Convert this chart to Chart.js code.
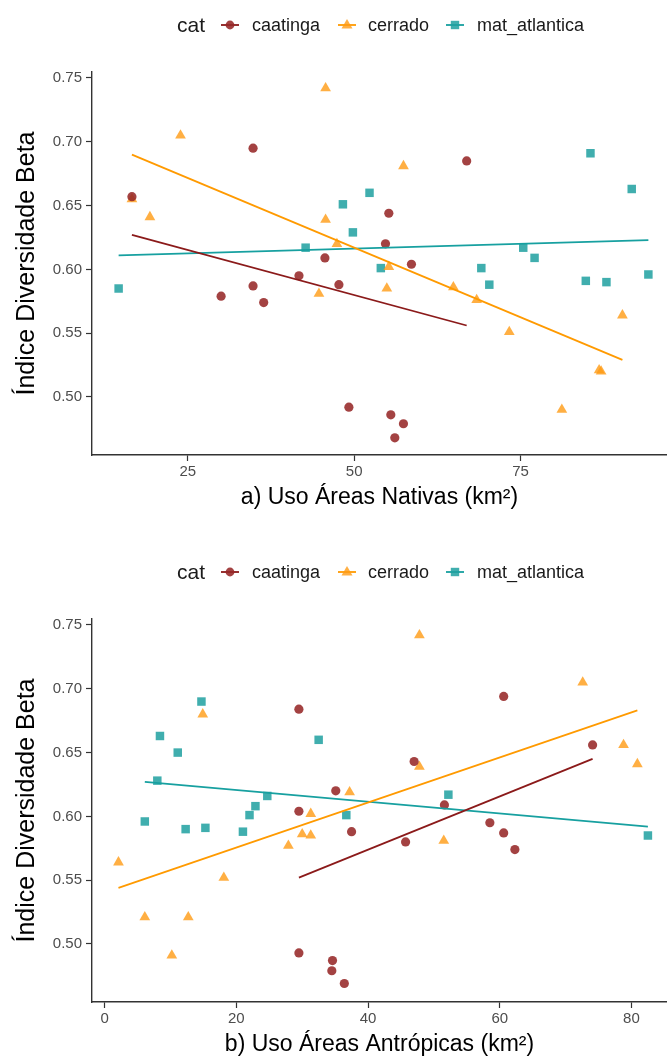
<!DOCTYPE html>
<html>
<head>
<meta charset="utf-8">
<script src="https://cdn.jsdelivr.net/npm/chart.js@4.4.0/dist/chart.umd.min.js"></script>
<style>
  body { margin: 0; background: #fff; overflow: hidden; width: 667px; height: 1061px; position: relative;
         font-family: "Liberation Sans", Arial, sans-serif; }
  .panel { position: absolute; left: 0; width: 667px; height: 547px; }
  .legend { position: absolute; left: 0; top: 12px; width: 667px; height: 26px; color: #1a1a1a; }
  .legend span { position: absolute; top: 0; line-height: 26px; white-space: nowrap; }
  .legend .ttl { font-size: 21px; }
  .legend .lbl { font-size: 18px; }
  .legend svg { position: absolute; top: 4px; }
</style>
</head>
<body>

<div class="panel" style="top:0">
  <canvas id="chartA" width="667" height="547"></canvas>
  <div class="legend" id="legendA"></div>
</div>
<div class="panel" style="top:547px">
  <canvas id="chartB" width="667" height="547"></canvas>
  <div class="legend" id="legendB"></div>
</div>

<script>
// category names and colours
const categories = ['caatinga', 'cerrado', 'mat_atlantica'];
const lineColors = ['#8B1A1A', '#FF9A00', '#17A0A0'];
const pointColors = ['rgba(150,40,40,0.88)', 'rgba(255,155,20,0.8)', 'rgba(30,160,160,0.85)'];
const pointShapes = ['circle', 'triangle', 'rect'];
const pointSizes = [4.6, 6.2, 6.0];

const yTicks = [0.50, 0.55, 0.60, 0.65, 0.70, 0.75];

// a) Uso Áreas Nativas
const natTicks = [25, 50, 75];
const natCaatingaX = [16.6, 34.8, 66.9, 55.2, 54.7, 58.6, 47.7, 45.6, 41.7, 34.8, 30.0, 36.4, 49.2, 55.5, 57.4, 56.1];
const natCaatingaY = [0.657, 0.695, 0.685, 0.644, 0.620, 0.604, 0.588, 0.609, 0.595, 0.587, 0.579, 0.574, 0.492, 0.486, 0.479, 0.468];
const natCerradoX = [16.6, 19.3, 23.9, 45.7, 45.7, 47.4, 57.4, 44.7, 55.2, 54.9, 64.9, 68.4, 73.3, 90.3, 86.8, 87.1, 81.2];
const natCerradoY = [0.655, 0.641, 0.705, 0.742, 0.639, 0.620, 0.681, 0.581, 0.602, 0.585, 0.586, 0.576, 0.551, 0.564, 0.521, 0.520, 0.490];
const natMataX = [14.6, 42.7, 48.3, 49.8, 52.3, 54.0, 69.1, 70.3, 75.4, 77.1, 85.5, 91.7, 84.8, 87.9, 94.2];
const natMataY = [0.585, 0.617, 0.651, 0.629, 0.660, 0.601, 0.601, 0.588, 0.617, 0.609, 0.691, 0.663, 0.591, 0.590, 0.596];
// fitted lines (start, end)
const natFitX = [[16.6, 66.9], [16.6, 90.3], [14.6, 94.2]];
const natFitY = [[0.627, 0.556], [0.690, 0.529], [0.611, 0.623]];

// b) Uso Áreas Antrópicas
const antTicks = [0, 20, 40, 60, 80];
const antCaatingaX = [29.5, 35.1, 29.5, 60.6, 74.1, 47.0, 51.6, 37.5, 29.5, 34.6, 34.5, 36.4, 45.7, 58.5, 60.6, 62.3];
const antCaatingaY = [0.684, 0.620, 0.604, 0.694, 0.656, 0.643, 0.609, 0.588, 0.493, 0.487, 0.479, 0.469, 0.580, 0.595, 0.587, 0.574];
const antCerradoX = [2.1, 6.1, 12.7, 10.2, 18.1, 27.9, 30.0, 31.3, 31.3, 14.9, 37.2, 47.8, 72.6, 78.8, 80.9, 47.8, 51.5];
const antCerradoY = [0.564, 0.521, 0.521, 0.491, 0.552, 0.577, 0.586, 0.585, 0.602, 0.680, 0.619, 0.742, 0.705, 0.656, 0.641, 0.639, 0.581];
const antMataX = [14.7, 8.4, 11.1, 32.5, 8.0, 24.7, 22.9, 22.0, 6.1, 12.3, 15.3, 21.0, 36.7, 52.2, 82.5];
const antMataY = [0.690, 0.663, 0.650, 0.660, 0.628, 0.616, 0.608, 0.601, 0.596, 0.590, 0.591, 0.588, 0.601, 0.617, 0.585];
const antFitX = [[29.5, 74.1], [2.1, 80.9], [6.1, 82.5]];
const antFitY = [[0.552, 0.645], [0.544, 0.683], [0.627, 0.592]];

const FONT = '"Liberation Sans", Arial, sans-serif';

function pairs(xs, ys) {
    return xs.map((x, i) => ({ x: x, y: ys[i] }));
}

function buildLegend(id) {
    const el = document.getElementById(id);
    let html = '<span class="ttl" style="left:177px">cat</span>';
    const markerX = [221, 338, 446];
    const labelX = [252, 368, 477];
    categories.forEach((c, i) => {
        let shape;
        if (i === 0) shape = '<circle cx="9" cy="9" r="4.4" fill="' + pointColors[0] + '"/>';
        else if (i === 1) shape = '<polygon points="9,3 14.5,12.5 3.5,12.5" fill="' + pointColors[1] + '"/>';
        else shape = '<rect x="4.8" y="4.8" width="8.4" height="8.4" fill="' + pointColors[2] + '"/>';
        html += '<svg style="left:' + markerX[i] + 'px" width="18" height="18">' +
            '<line x1="0" y1="9" x2="18" y2="9" stroke="' + lineColors[i] + '" stroke-width="1.8"/>' +
            shape + '</svg>';
        html += '<span class="lbl" style="left:' + labelX[i] + 'px">' + c + '</span>';
    });
    el.innerHTML = html;
}

function makeChart(id, xMin, xMax, xTicks, xTitle, xs, ys, fitX, fitY) {
    const datasets = [];
    for (let i = 0; i < 3; i++) {
        datasets.push({
            label: categories[i] + ' fit',
            type: 'line',
            data: pairs(fitX[i], fitY[i]),
            borderColor: lineColors[i],
            borderWidth: 1.8,
            pointRadius: 0,
            fill: false,
            order: 0
        });
    }
    for (let i = 0; i < 3; i++) {
        datasets.push({
            label: categories[i],
            data: pairs(xs[i], ys[i]),
            pointStyle: pointShapes[i],
            pointRadius: pointSizes[i],
            pointBackgroundColor: pointColors[i],
            pointBorderWidth: 0,
            showLine: false,
            order: 1
        });
    }
    return new Chart(document.getElementById(id), {
        type: 'scatter',
        data: { datasets: datasets },
        options: {
            responsive: false,
            animation: false,
            devicePixelRatio: 1,
            layout: { autoPadding: false, padding: { top: 72, left: 0, right: 0, bottom: 0 } },
            plugins: { legend: { display: false }, tooltip: { enabled: false } },
            scales: {
                x: {
                    type: 'linear',
                    min: xMin,
                    max: xMax,
                    afterBuildTicks: s => { s.ticks = xTicks.map(v => ({ value: v })); },
                    afterFit: s => { s.height = 92; },
                    grid: { drawOnChartArea: false, tickLength: 6, tickColor: '#333', tickWidth: 1.2 },
                    border: { color: '#333', width: 1.4 },
                    ticks: { color: '#4d4d4d', font: { family: FONT, size: 15 }, padding: 2 },
                    title: {
                        display: true, text: xTitle, color: '#000',
                        font: { family: FONT, size: 23, lineHeight: 1.2 },
                        padding: { top: 0, bottom: 36 }
                    }
                },
                y: {
                    min: 0.4545,
                    max: 0.7547,
                    afterBuildTicks: s => { s.ticks = yTicks.map(v => ({ value: v })); },
                    afterFit: s => { s.width = 92; },
                    grid: { drawOnChartArea: false, tickLength: 6, tickColor: '#333', tickWidth: 1.2 },
                    border: { color: '#333', width: 1.4 },
                    ticks: {
                        color: '#4d4d4d', font: { family: FONT, size: 15 }, padding: 4,
                        callback: v => v.toFixed(2)
                    },
                    title: {
                        display: true, text: 'Índice Diversidade Beta', color: '#000',
                        font: { family: FONT, size: 25, lineHeight: 1.2 },
                        padding: { top: 12, bottom: 0 }
                    }
                }
            }
        }
    });
}

buildLegend('legendA');
buildLegend('legendB');

makeChart('chartA', 10.6, 97.0, natTicks, 'a) Uso Áreas Nativas (km²)',
    [natCaatingaX, natCerradoX, natMataX], [natCaatingaY, natCerradoY, natMataY], natFitX, natFitY);
makeChart('chartB', -1.92, 85.4, antTicks, 'b) Uso Áreas Antrópicas (km²)',
    [antCaatingaX, antCerradoX, antMataX], [antCaatingaY, antCerradoY, antMataY], antFitX, antFitY);
</script>
</body>
</html>
